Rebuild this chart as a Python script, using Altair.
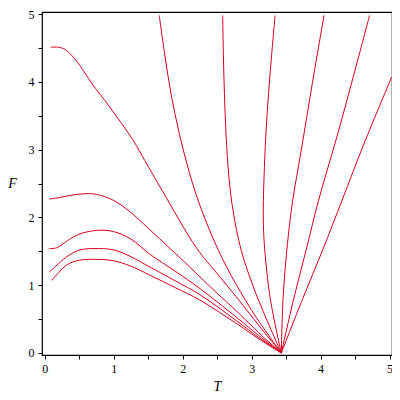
import altair as alt
import pandas as pd

# Curves F(T)
c1_T = [0.10, 0.17, 0.32, 0.51, 0.78, 1.00, 1.25, 1.52, 1.90, 2.25, 2.80, 3.10, 3.43]
c1_F = [1.07, 1.15, 1.30, 1.37, 1.38, 1.36, 1.28, 1.15, 0.96, 0.78, 0.42, 0.21, 0.00]

c2_T = [0.06, 0.15, 0.32, 0.51, 0.78, 1.00, 1.25, 1.52, 1.90, 2.25, 2.80, 3.10, 3.43]
c2_F = [1.19, 1.27, 1.42, 1.52, 1.54, 1.52, 1.42, 1.27, 1.06, 0.86, 0.46, 0.23, 0.00]

c3_T = [0.06, 0.17, 0.25, 0.41, 0.55, 0.78, 1.00, 1.25, 1.52, 1.90, 2.25, 2.80, 3.10, 3.43]
c3_F = [1.54, 1.55, 1.60, 1.71, 1.77, 1.81, 1.79, 1.68, 1.46, 1.20, 0.95, 0.51, 0.26, 0.00]

c4_T = [0.065, 0.20, 0.40, 0.60, 0.75, 1.00, 1.24, 1.50, 1.84, 2.10, 2.50, 2.80, 3.10, 3.43]
c4_F = [2.27, 2.29, 2.33, 2.35, 2.34, 2.25, 2.08, 1.84, 1.52, 1.27, 0.88, 0.60, 0.30, 0.00]

c5_T = [0.085, 0.20, 0.29, 0.40, 0.51, 0.68, 0.94, 1.28, 1.45, 1.70, 2.20, 2.50, 2.80, 3.10, 3.43]
c5_F = [4.51, 4.51, 4.48, 4.38, 4.24, 3.98, 3.63, 3.14, 2.84, 2.40, 1.55, 1.17, 0.80, 0.41, 0.00]

c6_T = [1.66, 1.74, 1.83, 1.95, 2.10, 2.27, 2.52, 2.77, 3.07, 3.43]
c6_F = [4.98, 4.40, 3.83, 3.24, 2.65, 2.12, 1.51, 1.02, 0.52, 0.00]

c7_T = [2.58, 2.59, 2.605, 2.63, 2.67, 2.73, 2.85, 3.06, 3.43]
c7_F = [4.98, 4.40, 3.83, 3.20, 2.60, 2.10, 1.51, 0.88, 0.00]

c8_T = [3.34, 3.29, 3.245, 3.205, 3.18, 3.17, 3.17, 3.19, 3.27, 3.43]
c8_F = [4.98, 4.40, 3.83, 3.20, 2.60, 2.25, 1.90, 1.52, 0.80, 0.00]

c9_T = [4.05, 3.90, 3.76, 3.67, 3.595, 3.51, 3.455, 3.43]
c9_F = [4.98, 4.10, 3.24, 2.70, 2.25, 1.52, 0.80, 0.00]

c10_T = [4.71, 4.48, 4.25, 3.97, 3.79, 3.61, 3.43]
c10_F = [4.98, 4.10, 3.24, 2.25, 1.52, 0.80, 0.00]

c11_T = [5.03, 4.63, 4.31, 4.03, 3.74, 3.43]
c11_F = [4.07, 3.09, 2.25, 1.52, 0.80, 0.00]

curves = [(c1_T, c1_F), (c2_T, c2_F), (c3_T, c3_F), (c4_T, c4_F), (c5_T, c5_F),
          (c6_T, c6_F), (c7_T, c7_F), (c8_T, c8_F), (c9_T, c9_F), (c10_T, c10_F),
          (c11_T, c11_F)]

rows = []
for k, (ts, fs) in enumerate(curves):
    for i, (t, f) in enumerate(zip(ts, fs)):
        rows.append({"curve": k, "i": i, "T": t, "F": f})
df = pd.DataFrame(rows)

ticks = [0, 0.5, 1, 1.5, 2, 2.5, 3, 3.5, 4, 4.5, 5]
lab = "datum.value % 1 == 0 ? '' + datum.value : ''"
font = "Liberation Serif"

chart = alt.Chart(df).mark_line(color="#d4001e", strokeWidth=1, clip=True,
                                interpolate="catmull-rom").encode(
    x=alt.X("T:Q", scale=alt.Scale(domain=[-0.04, 5.035], nice=False, zero=False),
            axis=alt.Axis(values=ticks, labelExpr=lab, title="T", grid=False, domain=False,
                          tickColor="black", tickSize=4, labelPadding=4,
                          labelFont=font, labelFontSize=12, labelColor="black",
                          titleFont=font, titleFontSize=14, titleFontStyle="italic",
                          titleFontWeight="normal", titleColor="black",
                          titleX=175, titleY=31, titleAlign="center", titleBaseline="middle")),
    y=alt.Y("F:Q", scale=alt.Scale(domain=[-0.03, 5.03], nice=False, zero=False),
            axis=alt.Axis(values=ticks, labelExpr=lab, title="F", grid=False, domain=False,
                          tickColor="black", tickSize=4, labelPadding=4,
                          labelFont=font, labelFontSize=12, labelColor="black",
                          titleFont=font, titleFontSize=14, titleFontStyle="italic",
                          titleFontWeight="normal", titleColor="black", titleAngle=0,
                          titleX=-30, titleY=171, titleAlign="center", titleBaseline="middle")),
    detail="curve:N",
    order="i:Q",
).properties(
    width=350, height=343,
    autosize=alt.AutoSizeParams(type="none"),
    padding={"left": 34, "top": 4, "right": 0, "bottom": 37},
).configure_view(stroke="black", strokeWidth=1.2)

chart.save("out.html", embed_options={"renderer": "svg", "actions": False})
